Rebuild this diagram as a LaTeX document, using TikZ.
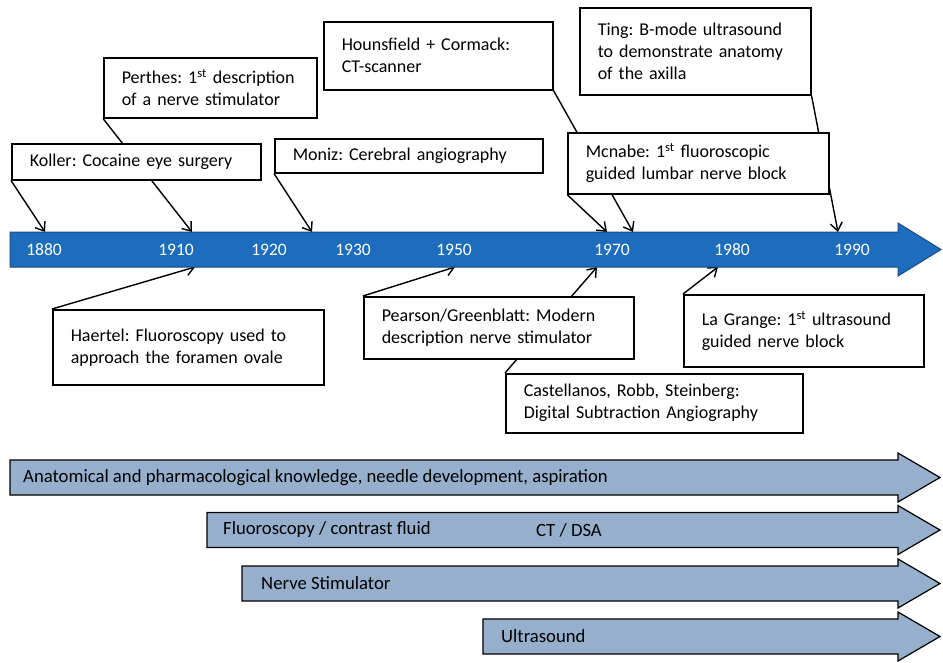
\documentclass[tikz,border=0pt]{standalone}
\usepackage{fontspec}
\setmainfont{Carlito}
\frenchspacing
\usetikzlibrary{arrows.meta, backgrounds}
\definecolor{timeblue}{RGB}{30,108,190}
\definecolor{phasegrey}{RGB}{149,175,204}

\begin{document}
\begin{tikzpicture}[
        x=1pt, y=-1pt,
        font=\fontsize{18}{22}\selectfont,
        evbox/.style 2 args={draw, line width=1.5pt, fill=white, anchor=north west, align=left,
            inner xsep=18pt, inner ysep=0pt, text width=#1, minimum height=#2},
        tlarrow/.style={-{Straight Barb[length=8pt, width=12pt]}, line width=1.4pt},
        yearlbl/.style={text=white, font=\fontsize{17.5}{20}\selectfont},
        phase/.style={anchor=west, inner sep=0pt, font=\fontsize{18.7}{22}\selectfont}
    ]
    \useasboundingbox (0,0) rectangle (943,662);

    % main time line
    \draw[fill=timeblue, draw=timeblue!70!black, line width=1pt]
        (10,232) -- (898,232) -- (898,223) -- (941,249.5) -- (898,276) -- (898,267) -- (10,267) -- cycle;
    \foreach \yr/\xp in {1880/44, 1910/176, 1920/269, 1930/353, 1950/454, 1970/612, 1980/732, 1990/852}
        \node[yearlbl] (y\yr) at (\xp,250) {\yr};

    % events above the line
    \node[evbox={213pt}{36pt}] (koller) at (11,143) {Koller: Cocaine eye surgery};
    \node[evbox={177pt}{60pt}] (perthes) at (103,57) {Perthes: 1\textsuperscript{st} description\\of a nerve stimulator};
    \node[evbox={232pt}{34pt}] (moniz) at (274,138) {Moniz: Cerebral angiography};
    \node[evbox={193pt}{68pt}] (hounsfield) at (323,21) {Hounsfield + Cormack:\\CT-scanner};
    \node[evbox={195pt}{87pt}] (ting) at (579,7) {Ting: B-mode ultrasound\\to demonstrate anatomy\\of the axilla};
    \node[evbox={225pt}{61pt}] (mcnabe) at (567,132) {Mcnabe: 1\textsuperscript{st} fluoroscopic\\guided lumbar nerve block};

    % events below the line
    \node[evbox={235pt}{75pt}] (haertel) at (52,309) {Haertel: Fluoroscopy used to\\approach the foramen ovale};
    \node[evbox={234pt}{62pt}] (pearson) at (363,296) {Pearson/Greenblatt: Modern\\description nerve stimulator};
    \node[evbox={204pt}{72pt}] (lagrange) at (683,294) {La Grange: 1\textsuperscript{st} ultrasound\\guided nerve block};
    \node[evbox={261pt}{59pt}] (castellanos) at (505,373) {Castellanos, Robb, Steinberg:\\Digital Subtraction Angiography};

    \coordinate (koller-at) at (45,232);
    \coordinate (perthes-at) at (192,232);
    \coordinate (moniz-at) at (312,232);
    \coordinate (mcnabe-at) at (607,232);
    \coordinate (hounsfield-at) at (633,232);
    \coordinate (ting-at) at (838,232);
    \coordinate (haertel-at) at (195,267);
    \coordinate (pearson-at) at (455,267);
    \coordinate (castellanos-at) at (597,267);
    \coordinate (lagrange-at) at (718,267);

    \begin{pgfonlayer}{background}
        \draw[tlarrow] (koller.south west) -- (koller-at);
        \draw[tlarrow] (perthes.south west) -- (perthes-at);
        \draw[tlarrow] (moniz.south west) -- (moniz-at);
        \draw[tlarrow] (hounsfield.south east) -- (hounsfield-at);
        \draw[tlarrow] (ting.south east) -- (ting-at);
        \draw[tlarrow] (mcnabe.south west) -- (mcnabe-at);
        \draw[tlarrow] (haertel.north west) -- (haertel-at);
        \draw[tlarrow] (pearson.north west) -- (pearson-at);
        \draw[tlarrow] (castellanos.north west) -- (castellanos-at);
        \draw[tlarrow] (lagrange.north west) -- (lagrange-at);
    \end{pgfonlayer}

    % techniques
    \foreach \xl/\yc in {10/477.5, 207/530, 242/583.5, 483/636.5}
        \draw[fill=phasegrey, line width=1.2pt]
            (\xl,\yc-17.5) -- (898,\yc-17.5) -- (898,\yc-24.5) -- (940,\yc) -- (898,\yc+24.5)
            -- (898,\yc+17.5) -- (\xl,\yc+17.5) -- cycle;
    \node[phase] (anat) at (23,478) {Anatomical and pharmacological knowledge, needle development, aspiration};
    \node[phase] (fluoro) at (223,530) {Fluoroscopy / contrast fluid};
    \node[phase] (ctdsa) at (536,530) {CT / DSA};
    \node[phase] (nstim) at (261,583) {Nerve Stimulator};
    \node[phase] (usound) at (501,636) {Ultrasound};
\end{tikzpicture}
\end{document}
